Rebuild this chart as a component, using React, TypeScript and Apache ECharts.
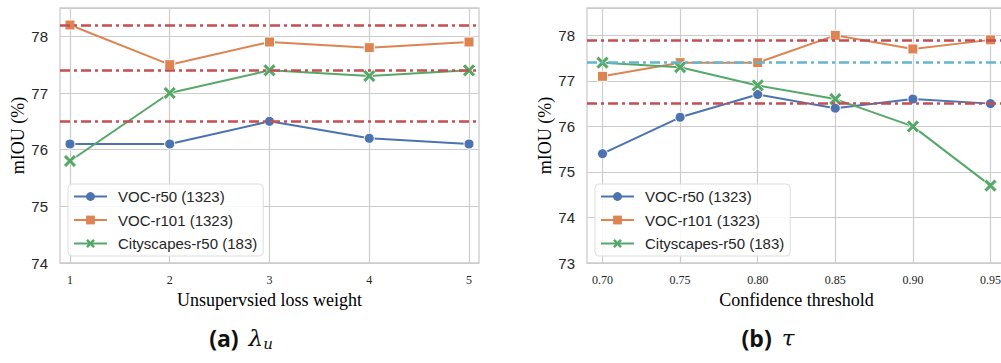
import React, { useEffect, useRef } from 'react';
import * as echarts from 'echarts';

// (a) unsupervised loss weight
const lossWeights = [1, 2, 3, 4, 5];
const lossVocR50 = [76.1, 76.1, 76.5, 76.2, 76.1];
const lossVocR101 = [78.2, 77.5, 77.9, 77.8, 77.9];
const lossCity = [75.8, 77.0, 77.4, 77.3, 77.4];
const lossRefRed = [78.2, 77.4, 76.5];

// (b) confidence threshold
const thresholds = [0.7, 0.75, 0.8, 0.85, 0.9, 0.95];
const thrVocR50 = [75.4, 76.2, 76.7, 76.4, 76.6, 76.5];
const thrVocR101 = [77.1, 77.4, 77.4, 78.0, 77.7, 77.9];
const thrCity = [77.4, 77.3, 76.9, 76.6, 76.0, 74.7];
const thrRefRed = [77.9, 76.5];
const thrRefCyan = [77.4];

const seriesNames = ['VOC-r50 (1323)', 'VOC-r101 (1323)', 'Cityscapes-r50 (183)'];

const BLUE = '#4C72B0';
const ORANGE = '#DD8452';
const GREEN = '#55A868';
const RED = '#C44E52';
const CYAN = '#64B5CD';
const GRID = '#cccccc';
const TEXT = '#262626';

const X_SYMBOL = 'path://M2,0 L5,3 L8,0 L10,2 L7,5 L10,8 L8,10 L5,7 L2,10 L0,8 L3,5 L0,2 Z';

const pairs = (xs: number[], ys: number[]) => xs.map((x, i) => [x, ys[i]]);

const refLines = (vals: number[], color: string) =>
  vals.map((v) => ({
    yAxis: v,
    lineStyle: { color, width: 2.5, type: [10, 4, 3, 4] as any },
  }));

function makeSeries(idx: number, xs: number[], a: number[], b: number[], c: number[], marks: any[]) {
  const common = {
    type: 'line',
    xAxisIndex: idx,
    yAxisIndex: idx,
    animation: false,
    clip: false,
    lineStyle: { width: 2 },
    emphasis: { disabled: true },
  };
  return [
    {
      ...common,
      name: seriesNames[0],
      data: pairs(xs, a),
      color: BLUE,
      symbol: 'circle',
      symbolSize: 10,
      itemStyle: { color: BLUE, borderColor: '#fff', borderWidth: 1 },
      z: 3,
    },
    {
      ...common,
      name: seriesNames[1],
      data: pairs(xs, b),
      color: ORANGE,
      symbol: 'rect',
      symbolSize: 10,
      itemStyle: { color: ORANGE, borderColor: '#fff', borderWidth: 1 },
      z: 2,
      markLine: {
        silent: true,
        symbol: ['none', 'none'],
        label: { show: false },
        emphasis: { disabled: true },
        animation: false,
        data: marks,
      },
    },
    {
      ...common,
      name: seriesNames[2],
      data: pairs(xs, c),
      color: GREEN,
      symbol: X_SYMBOL,
      symbolSize: 13,
      itemStyle: { color: GREEN, borderColor: '#fff', borderWidth: 0.8 },
      z: 4,
    },
  ];
}

function legendAt(left: number) {
  return {
    orient: 'vertical',
    left,
    top: 184,
    itemWidth: 33,
    itemHeight: 11,
    itemGap: 8.5,
    padding: [5, 6, 5, 5],
    backgroundColor: 'rgba(255,255,255,0.85)',
    borderColor: '#dddddd',
    borderWidth: 1,
    borderRadius: 4,
    selectedMode: false,
    itemStyle: { borderWidth: 0 },
    textStyle: { fontFamily: 'Liberation Sans', fontSize: 15, color: TEXT, padding: [0, 0, 0, 6] },
    data: seriesNames,
  };
}

function xAxisCfg(idx: number, min: number, max: number, ticks: number[], name: string, fmt: (v: number) => string) {
  return {
    type: 'value',
    gridIndex: idx,
    min,
    max,
    name,
    nameLocation: 'middle',
    nameGap: 27,
    nameTextStyle: { fontFamily: 'Liberation Serif', fontSize: 18, color: '#000' },
    axisLine: { show: false },
    axisTick: { show: false, customValues: ticks },
    axisLabel: {
      customValues: ticks,
      formatter: fmt,
      fontFamily: 'Liberation Serif',
      fontSize: 12,
      color: TEXT,
      margin: 11,
    },
    splitLine: { show: true, lineStyle: { color: GRID, width: 1.2 } },
  };
}

function yAxisCfg(idx: number, min: number, max: number) {
  return {
    type: 'value',
    gridIndex: idx,
    min,
    max,
    interval: 1,
    name: 'mIOU (%)',
    nameLocation: 'middle',
    nameGap: 32,
    nameTextStyle: { fontFamily: 'Liberation Serif', fontSize: 18, color: '#000' },
    axisLine: { show: false },
    axisTick: { show: false },
    axisLabel: {
      showMaxLabel: false,
      fontFamily: 'Liberation Sans',
      fontSize: 15,
      color: TEXT,
      margin: 12,
    },
    splitLine: { show: true, lineStyle: { color: GRID, width: 1.2 } },
  };
}

function caption(cx: number, label: string, sym: string, sub: string) {
  return {
    type: 'text',
    x: cx,
    y: 338,
    silent: true,
    style: {
      text: `{b|${label}}{m|${sym}}{s|${sub}}`,
      align: 'center',
      verticalAlign: 'middle',
      rich: {
        b: { fontFamily: 'Open Sans', fontWeight: 'bold', fontSize: 23, fill: '#111' },
        m: { fontFamily: 'DejaVu Serif', fontStyle: 'italic', fontSize: 23, fill: '#111', padding: [0, 0, 0, 10] },
        s: { fontFamily: 'DejaVu Serif', fontStyle: 'italic', fontSize: 15, fill: '#111', padding: [12, 0, 0, 0] },
      },
    },
  };
}

export default function App() {
  const ref = useRef<HTMLDivElement>(null);
  useEffect(() => {
    if (!ref.current) return;
    const chart = echarts.init(ref.current, null, { renderer: 'svg' });
    const option: any = {
      animation: false,
      backgroundColor: '#ffffff',
      grid: [
        { left: 60, width: 419, top: 8, bottom: 100, show: true, borderColor: GRID, borderWidth: 1.3, backgroundColor: 'transparent' },
        { left: 587, width: 419, top: 8, bottom: 100, show: true, borderColor: GRID, borderWidth: 1.3, backgroundColor: 'transparent' },
      ],
      xAxis: [
        xAxisCfg(0, 0.9, 5.1, lossWeights, 'Unsupervsied loss weight', (v: number) => String(v)),
        xAxisCfg(1, 0.69, 0.96, thresholds, 'Confidence threshold', (v: number) => v.toFixed(2)),
      ],
      yAxis: [yAxisCfg(0, 74, 78.5), yAxisCfg(1, 73, 78.6)],
      legend: [legendAt(68), legendAt(595)],
      series: [
        ...makeSeries(0, lossWeights, lossVocR50, lossVocR101, lossCity, refLines(lossRefRed, RED)),
        ...makeSeries(1, thresholds, thrVocR50, thrVocR101, thrCity, [
          ...refLines(thrRefRed, RED),
          ...refLines(thrRefCyan, CYAN),
        ]),
      ],
      graphic: [caption(241, '(a)', 'λ', 'u'), caption(768, '(b)', 'τ', '')],
    };
    chart.setOption(option);
    return () => chart.dispose();
  }, []);
  return (
    <div
      ref={ref}
      style={{ position: 'fixed', left: 0, top: 0, width: 1012, height: 363, background: '#fff' }}
    />
  );
}
